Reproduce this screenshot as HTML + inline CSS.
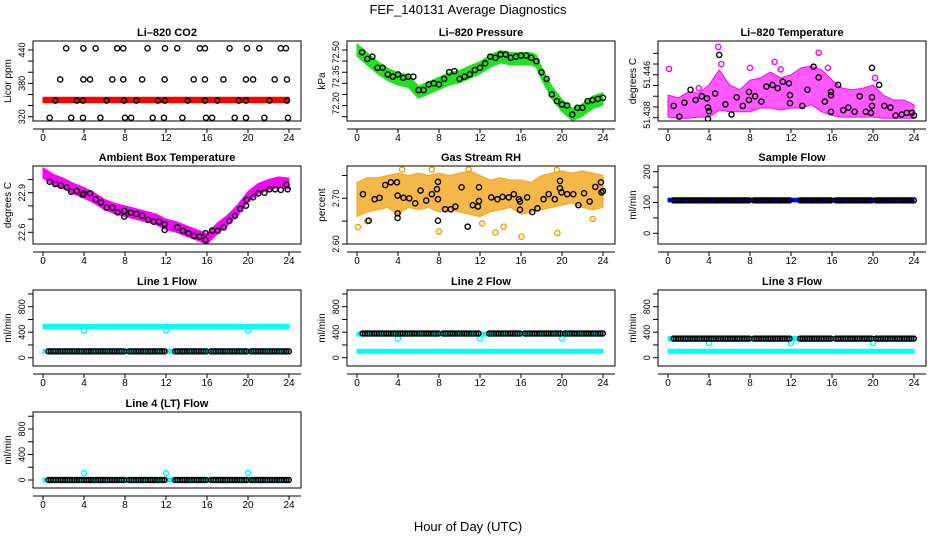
<!DOCTYPE html>
<html><head><meta charset="utf-8"><style>
html,body{margin:0;padding:0;background:#fff}
svg{display:block;font-family:"Liberation Sans",sans-serif}
</style></head><body>
<svg id="chart" width="936" height="540" viewBox="0 0 936 540" xmlns="http://www.w3.org/2000/svg">
<text x="468" y="14" font-size="13" text-anchor="middle">FEF_140131  Average Diagnostics</text>
<text x="468" y="531" font-size="13" text-anchor="middle">Hour of Day (UTC)</text>
</svg>
<script>
// ---------- data ----------
const xTicks=[0,4,8,12,16,20,24];
// CO2
const co2BandHours=[0,24];
const co2BandVals=[350,350];
const co2H440=[2.26,3.94,5.14,7.24,7.83,10.2,11.9,13.1,15.3,15.8,18.2,19.9,21.1,23.2,23.7];
const co2H386=[1.68,3.94,4.59,6.76,7.83,9.67,11.87,14.7,15.8,17.6,19.8,20.5,22.6,23.8];
const co2H349=[1.2,3.3,3.9,6.2,7.9,9.1,11.2,11.9,14.1,15.8,17.0,19.1,19.8,22.1,23.8];
const co2H318=[0.65,2.75,3.9,5.6,8.0,8.6,10.7,11.8,13.6,15.9,16.5,18.7,19.8,21.6,23.9];
// Pressure
const presBandHours=[0,1,2,3,4,5,6,7,8,9,10,11,12,13,14,15,16,17,17.5,18,19,20,21,22,23,24];
const presBandVals=[72.50,72.46,72.42,72.39,72.37,72.36,72.31,72.33,72.35,72.37,72.38,72.40,72.42,72.45,72.47,72.46,72.46,72.46,72.45,72.395,72.31,72.25,72.21,72.23,72.265,72.28];
const presHours=[0.5,1,1.5,2,2.5,3,3.5,4,4.5,5,5.5,6,6.5,7,7.5,8,8.5,9,9.5,10,10.5,11,11.5,12,12.5,13,13.5,14,14.5,15,15.5,16,16.5,17,17.5,18,18.5,19,19.5,20,20.5,21,21.5,22,22.5,23,23.5,24];
const presVals=[72.49,72.46,72.47,72.42,72.42,72.39,72.38,72.39,72.375,72.38,72.38,72.32,72.32,72.345,72.35,72.345,72.37,72.40,72.405,72.37,72.38,72.39,72.41,72.42,72.44,72.47,72.465,72.48,72.48,72.465,72.47,72.475,72.475,72.465,72.45,72.40,72.37,72.30,72.27,72.255,72.25,72.21,72.24,72.24,72.27,72.275,72.28,72.285];
// Li-820 temperature
const tempEnvHours=[0,1,2,3,4,5,6,7,8,9,10,11,12,13,14,15,16,17,18,19,20,21,22,23,24];
const tempUpper=[51.4422,51.4417,51.4428,51.4426,51.4441,51.4469,51.4441,51.4432,51.4450,51.4454,51.4465,51.4454,51.4460,51.4473,51.4476,51.4469,51.4450,51.4435,51.4432,51.4435,51.4441,51.4422,51.4413,51.4413,51.4404];
const tempLower=[51.4381,51.4379,51.4379,51.4381,51.4381,51.4394,51.4391,51.4391,51.4391,51.4398,51.4398,51.4394,51.4398,51.4398,51.4404,51.4391,51.4384,51.4381,51.4381,51.4381,51.4381,51.4379,51.4379,51.4379,51.4379];
const tempOutHours=[4.9,14.7,0.1,10.4,8.0,15.6,20.2,3.0,5.2,11.0];
const tempOutVals=[51.4512,51.4501,51.4471,51.4484,51.4473,51.4473,51.4454,51.4435,51.4480,51.4470];
const tempHours=[0.55,1.1,1.6,2.2,2.7,3.3,3.8,3.9,3.9,4.0,4.6,5.0,5.6,6.2,6.7,7.3,7.9,7.9,8.5,9.1,9.6,10.2,10.7,11.2,11.8,11.9,11.9,13.1,13.6,14.2,14.7,15.3,15.9,15.9,15.9,16.6,17.1,17.6,18.2,18.7,19.3,19.8,19.9,19.9,19.9,20.6,21.1,21.7,22.2,22.8,23.3,23.8,24.0];
const tempVals=[51.4402,51.4382,51.4408,51.4432,51.4413,51.4420,51.4416,51.4399,51.4378,51.4392,51.4425,51.4497,51.4405,51.4386,51.4418,51.4402,51.4428,51.4413,51.4420,51.4410,51.4438,51.4441,51.4435,51.4447,51.4444,51.4422,51.4407,51.4402,51.4432,51.4475,51.4455,51.4410,51.4422,51.4428,51.4391,51.4441,51.4394,51.4399,51.4391,51.4420,51.4391,51.4389,51.4473,51.4418,51.4402,51.4441,51.4402,51.4399,51.4384,51.4386,51.4389,51.4389,51.4384];
// Ambient box temperature
const ambBandHours=[0,1,2,3,4,5,6,7,8,9,10,11,12,13,14,15,16,17,18,19,20,21,22,23,24];
const ambBandVals=[23.05,23.0,22.97,22.93,22.9,22.86,22.81,22.78,22.76,22.74,22.72,22.70,22.66,22.64,22.61,22.58,22.55,22.63,22.69,22.77,22.87,22.93,22.96,22.98,22.97];
const ambHours=[0.65,1.2,1.75,2.33,2.75,3.3,3.88,3.95,4.59,5.14,5.66,6.21,6.76,7.28,7.93,7.93,8.57,9.12,9.67,10.26,10.8,11.32,11.87,11.87,13.1,13.65,14.2,14.72,15.27,15.85,15.85,16.5,17.05,17.63,18.18,18.73,19.25,19.8,19.86,20.5,21.0,21.6,22.1,22.65,23.2,23.75,23.87];
const ambVals=[22.983,22.966,22.953,22.941,22.908,22.913,22.883,22.895,22.895,22.850,22.827,22.787,22.787,22.752,22.762,22.719,22.749,22.739,22.726,22.694,22.681,22.681,22.661,22.618,22.638,22.611,22.593,22.573,22.567,22.593,22.542,22.613,22.611,22.638,22.686,22.726,22.777,22.802,22.845,22.865,22.895,22.900,22.926,22.926,22.921,22.960,22.926];
// Gas stream RH
const rhEnvHours=[0,1,2,3,4,5,6,7,8,9,10,11,12,13,14,15,16,17,18,19,20,21,22,23,24];
const rhUpper=[2.735,2.745,2.745,2.75,2.755,2.75,2.755,2.75,2.755,2.75,2.755,2.76,2.75,2.74,2.745,2.74,2.74,2.735,2.75,2.755,2.76,2.755,2.76,2.755,2.75];
const rhLower=[2.66,2.67,2.675,2.68,2.665,2.68,2.675,2.68,2.67,2.675,2.67,2.665,2.66,2.67,2.675,2.68,2.665,2.67,2.675,2.68,2.685,2.69,2.68,2.675,2.68];
const rhOutHours=[0.1,4.4,7.3,8.0,13.5,14.3,16.05,19.55,23.0,10.9,19.5,1.0,12.2];
const rhOutVals=[2.637,2.763,2.763,2.627,2.625,2.638,2.616,2.624,2.655,2.763,2.762,2.650,2.645];
const rhHours=[0.58,1.14,1.72,2.2,2.76,3.3,3.9,3.96,3.96,3.96,4.54,5.1,5.68,6.2,6.75,7.3,7.8,7.9,7.9,7.9,8.6,9.15,9.6,10.2,10.8,11.3,11.8,11.9,11.9,13.1,13.7,14.2,14.8,15.3,15.8,15.9,15.9,16.6,17.1,17.6,18.2,18.7,19.3,19.8,19.8,19.95,20.5,21.1,21.6,22.15,22.7,23.25,23.8,23.85,24.0];
const rhVals=[2.709,2.651,2.698,2.701,2.729,2.735,2.735,2.706,2.667,2.657,2.701,2.700,2.689,2.717,2.695,2.709,2.720,2.736,2.698,2.651,2.676,2.676,2.682,2.724,2.638,2.685,2.682,2.694,2.724,2.702,2.698,2.703,2.702,2.709,2.698,2.693,2.675,2.702,2.670,2.678,2.698,2.709,2.698,2.738,2.722,2.713,2.709,2.709,2.685,2.711,2.693,2.725,2.735,2.713,2.716];
// Flows
const flowSegments=[[0.55,8.0],[8.4,12.0],[12.9,16.0],[16.4,19.9],[20.3,24]];
const sampleBand=108, sampleBlack=107;
const line1Cyan=[490,100], line1Black=100, line1DipVal=430;
const line2Cyan=[370,100], line2Black=380, line2DipVal=300;
const line3Cyan=[300,100], line3Black=300, line3DipVal=230;
const line4Cyan=[0], line4Black=0, line4DipVal=110;
const dipHours=[4,12,20];

// ---------- drawing ----------
const NS='http://www.w3.org/2000/svg';
const svg=document.getElementById('chart');
function mk(tag, attrs, name, parent){
  const el=document.createElementNS(NS,tag);
  for(const k in attrs) el.setAttribute(k,attrs[k]);
  
  
  (parent||svg).appendChild(el);
  return el;
}
const colL=[33,347,658], W=268;
const rowT=[41,166,290,412], rowB=[121,244,366,488];
let pid=0;
function panel(c){
  const L=colL[c.col], T=rowT[c.row], B=rowB[c.row];
  const g=mk('g',{},c.name+'-panel');
  const x=h=>L+10+h*246/24;
  const y=v=>c.y0+(v-c.v0)*(c.y1-c.y0)/(c.v1-c.v0);
  const id='clip'+(pid++);
  const cp=mk('clipPath',{id:id},c.name+'-clip',g);
  mk('rect',{x:L,y:T,width:W,height:B-T},c.name+'-clip-rect',cp);
  const data=mk('g',{'clip-path':'url(#'+id+')'},c.name+'-data',g);
  mk('text',{x:L+W/2,y:T-5,'font-size':11,'font-weight':'bold','text-anchor':'middle'},c.name+'-title',g).textContent=c.title;
  const ay=B+8;
  mk('line',{x1:L,x2:L+W,y1:ay,y2:ay,stroke:'#000','stroke-width':1},c.name+'-x-axis',g);
  xTicks.forEach(t=>{
    mk('line',{x1:x(t),x2:x(t),y1:ay,y2:ay+4,stroke:'#000'},c.name+'-x-tick',g);
    mk('text',{x:x(t),y:B+20,'font-size':10,'text-anchor':'middle'},c.name+'-x-tick-label',g).textContent=String(t);
  });
  c.ticks.forEach(t=>{
    mk('line',{x1:L-5,x2:L,y1:y(t),y2:y(t),stroke:'#000'},c.name+'-y-tick',g);
  });
  c.labels.forEach((lab,i)=>{
    const yy=y(c.labelVals[i]);
    mk('text',{x:L-8,y:yy,'font-size':9,'text-anchor':'middle',transform:'rotate(-90 '+(L-8)+' '+yy+')'},c.name+'-y-tick-label',g).textContent=lab;
  });
  const my=(T+B)/2;
  mk('text',{x:L-22,y:my,'font-size':10,'text-anchor':'middle',transform:'rotate(-90 '+(L-22)+' '+my+')'},c.name+'-y-axis-title',g).textContent=c.ylab;
  mk('rect',{x:L,y:T,width:W,height:B-T,fill:'none',stroke:'#000','stroke-width':1},c.name+'-frame',g);
  return {x,y,data,name:c.name};
}
function pts(p,hours,vals,color,name,r){
  hours.forEach((h,i)=>{
    mk('circle',{cx:p.x(h),cy:p.y(vals[i]),r:r||2.6,fill:'none',stroke:color,'stroke-width':1.4},name,p.data);
  });
}
function env(p,hours,up,lo,color,name,op){
  const a=hours.map((h,i)=>p.x(h)+','+p.y(up[i]));
  const b=hours.map((h,i)=>p.x(h)+','+p.y(lo[i])).reverse();
  mk('polygon',{points:a.concat(b).join(' '),fill:color,'fill-opacity':op||1,stroke:color,'stroke-width':1,'stroke-linejoin':'round'},name,p.data);
}
function band(p,hours,vals,half,color,name){
  env(p,hours,vals.map(v=>v+half),vals.map(v=>v-half),color,name,1);
}
function strip(p,val,color,name){
  flowSegments.forEach(s=>{
    for(let h=s[0];h<=s[1]+1e-6;h+=0.23){
      mk('circle',{cx:p.x(h),cy:p.y(val),r:2.5,fill:'none',stroke:color,'stroke-width':1.5},name,p.data);
    }
  });
}

const p1=panel({name:'co2',col:0,row:0,title:'Li\u2013820 CO2',ylab:'Licor ppm',v0:440,y0:50,v1:320,y1:116.7,ticks:[320,340,360,380,400,420,440],labels:['320','380','440'],labelVals:[320,380,440]});
band(p1,co2BandHours,co2BandVals,5,'#ff0000','co2-red-band');
pts(p1,co2H440,co2H440.map(()=>443),'#000','co2-point');
pts(p1,co2H386,co2H386.map(()=>387),'#000','co2-point');
pts(p1,co2H349,co2H349.map(()=>349),'#000','co2-point');
pts(p1,co2H318,co2H318.map(()=>318),'#000','co2-point');

const p2=panel({name:'pressure',col:1,row:0,title:'Li\u2013820 Pressure',ylab:'kPa',v0:72.50,y0:50,v1:72.20,y1:116.7,ticks:[72.50,72.45,72.40,72.35,72.30,72.25,72.20],labels:['72.50','72.35','72.20'],labelVals:[72.49,72.38,72.26]});
band(p2,presBandHours,presBandVals,0.028,'#22e022','pressure-green-band');
pts(p2,presHours,presVals,'#000','pressure-point');

const p3=panel({name:'licor-temp',col:2,row:0,title:'Li\u2013820 Temperature',ylab:'degrees C',v0:51.450,y0:53.3,v1:51.438,y1:117.7,ticks:[51.450,51.448,51.446,51.444,51.442,51.440,51.438],labels:['51.446','51.438'],labelVals:[51.446,51.4385]});
env(p3,tempEnvHours,tempUpper,tempLower,'#ff00ff','licor-temp-magenta-cloud',0.65);
pts(p3,tempOutHours,tempOutVals,'#ff00ff','licor-temp-magenta-point');
pts(p3,tempHours,tempVals,'#000','licor-temp-point');

const p4=panel({name:'ambient-temp',col:0,row:1,title:'Ambient Box Temperature',ylab:'degrees C',v0:22.9,y0:192.7,v1:22.6,y1:232.3,ticks:[22.6,22.7,22.8,22.9,23.0],labels:['22.6','22.9'],labelVals:[22.6,22.9]});
band(p4,ambBandHours,ambBandVals,0.04,'#ff00ff','ambient-magenta-band');
pts(p4,ambHours,ambVals,'#000','ambient-point');

const p5=panel({name:'gas-rh',col:1,row:1,title:'Gas Stream RH',ylab:'percent',v0:2.70,y0:198.3,v1:2.60,y1:244,ticks:[2.60,2.65,2.70,2.75],labels:['2.60','2.70'],labelVals:[2.60,2.70]});
env(p5,rhEnvHours,rhUpper,rhLower,'#f2a51a','gas-rh-orange-cloud',0.8);
pts(p5,rhOutHours,rhOutVals,'#f0a000','gas-rh-orange-point');
pts(p5,rhHours,rhVals,'#000','gas-rh-point');

const p6=panel({name:'sample-flow',col:2,row:1,title:'Sample Flow',ylab:'ml/min',v0:0,y0:233.3,v1:200,y1:171.7,ticks:[0,50,100,150,200],labels:['0','100','200'],labelVals:[0,100,200]});
band(p6,[0,24],[sampleBand,sampleBand],6,'#0000ff','sample-flow-blue-band');
strip(p6,sampleBlack,'#000','sample-flow-point');

function flowPanel(name,title,col,row,cyanVals,blackVal,dipVal){
  const y0=row===2?357.7:480, y1=row===2?306.7:429;
  const p=panel({name:name,col:col,row:row,title:title,ylab:'ml/min',v0:0,y0:y0,v1:800,y1:y1,ticks:[0,200,400,600,800,1000],labels:['0','400','800'],labelVals:[0,400,800]});
  cyanVals.forEach(v=>band(p,[0,24],[v,v],32,'#00ffff',name+'-cyan-band'));
  pts(p,dipHours,dipHours.map(()=>dipVal),'#00ffff',name+'-cyan-point');
  strip(p,blackVal,'#000',name+'-point');
}
flowPanel('line1-flow','Line 1 Flow',0,2,line1Cyan,line1Black,line1DipVal);
flowPanel('line2-flow','Line 2 Flow',1,2,line2Cyan,line2Black,line2DipVal);
flowPanel('line3-flow','Line 3 Flow',2,2,line3Cyan,line3Black,line3DipVal);
flowPanel('line4-flow','Line 4 (LT) Flow',0,3,line4Cyan,line4Black,line4DipVal);
</script>
</body></html>
